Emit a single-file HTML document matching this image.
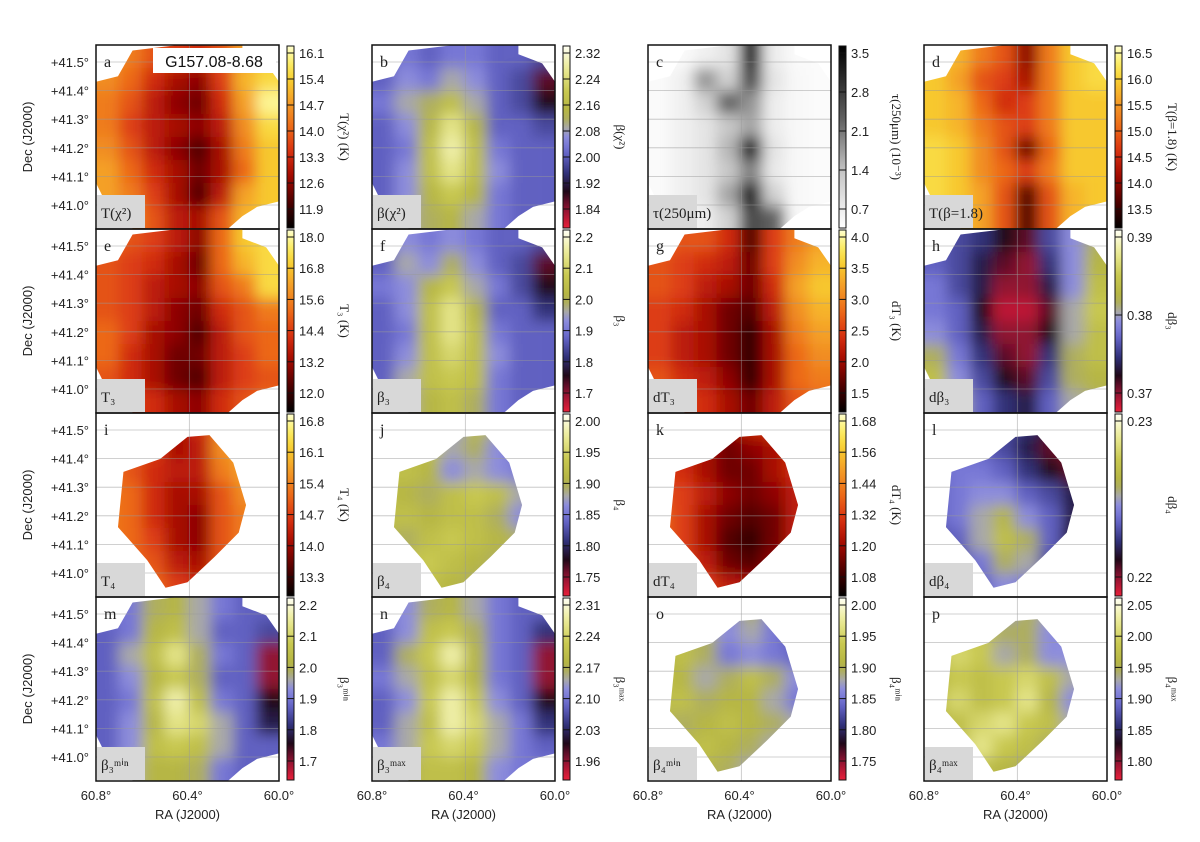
<!DOCTYPE html>
<html><head><meta charset="utf-8"><style>
html,body{margin:0;padding:0;background:#fff;}
svg{display:block;font-family:"Liberation Sans",sans-serif;}
</style></head><body>
<svg id="fig" width="1200" height="842" viewBox="0 0 1200 842" xmlns="http://www.w3.org/2000/svg">
<defs>
<filter id="blur" x="-30%" y="-30%" width="160%" height="160%"><feGaussianBlur stdDeviation="7"/></filter>
</defs>
</svg>
<script>
// ---- data ----
const panelLetters = ["a","b","c","d","e","f","g","h","i","j","k","l","m","n","o","p"];
const panelTags = ["T(χ²)","β(χ²)","τ(250μm)","T(β=1.8)","T₃","β₃","dT₃","dβ₃","T₄","β₄","dT₄","dβ₄","β₃ᵐⁱⁿ","β₃ᵐᵃˣ","β₄ᵐⁱⁿ","β₄ᵐᵃˣ"];
const cbarLabels = ["T(χ²) (K)","β(χ²)","τ(250μm) (10⁻³)","T(β=1.8) (K)","T₃ (K)","β₃","dT₃ (K)","dβ₃","T₄ (K)","β₄","dT₄ (K)","dβ₄","β₃ᵐⁱⁿ","β₃ᵐᵃˣ","β₄ᵐⁱⁿ","β₄ᵐᵃˣ"];
const cmaps = ["hot","beta","grey","hot","hot","beta","hot","beta","hot","beta","hot","beta","beta","beta","beta","beta"];
const shapes = ["full","full","full","full","full","full","full","full","small","small","small","small","full","full","small","small"];
const cbarTicks = [
 ["16.1","15.4","14.7","14.0","13.3","12.6","11.9"],
 ["2.32","2.24","2.16","2.08","2.00","1.92","1.84"],
 ["3.5","2.8","2.1","1.4","0.7"],
 ["16.5","16.0","15.5","15.0","14.5","14.0","13.5"],
 ["18.0","16.8","15.6","14.4","13.2","12.0"],
 ["2.2","2.1","2.0","1.9","1.8","1.7"],
 ["4.0","3.5","3.0","2.5","2.0","1.5"],
 ["0.39","0.38","0.37"],
 ["16.8","16.1","15.4","14.7","14.0","13.3"],
 ["2.00","1.95","1.90","1.85","1.80","1.75"],
 ["1.68","1.56","1.44","1.32","1.20","1.08"],
 ["0.23","0.22"],
 ["2.2","2.1","2.0","1.9","1.8","1.7"],
 ["2.31","2.24","2.17","2.10","2.03","1.96"],
 ["2.00","1.95","1.90","1.85","1.80","1.75"],
 ["2.05","2.00","1.95","1.90","1.85","1.80"]
];
const decTicks = ["+41.5°","+41.4°","+41.3°","+41.2°","+41.1°","+41.0°"];
const raTicks = ["60.8°","60.4°","60.0°"];
const gridA = [[.7,.6,.5,.45,.4,.5,.7,.8],[.65,.55,.4,.3,.25,.45,.75,.85],[.6,.5,.35,.25,.2,.4,.7,.95],[.6,.45,.35,.3,.25,.35,.65,.85],[.65,.5,.35,.25,.15,.3,.6,.8],[.7,.55,.4,.3,.2,.3,.55,.8],[.7,.6,.45,.3,.15,.35,.7,.8],[.75,.65,.5,.35,.3,.5,.75,.8]];
const gridB = [[.4,.45,.4,.45,.45,.4,.4,.35],[.4,.5,.45,.55,.5,.4,.35,.15],[.45,.55,.6,.7,.55,.4,.35,.2],[.4,.5,.65,.85,.65,.4,.4,.35],[.4,.45,.7,.9,.7,.45,.4,.4],[.4,.5,.7,.85,.7,.5,.4,.4],[.4,.5,.65,.75,.65,.45,.4,.4],[.45,.55,.6,.65,.55,.45,.4,.4]];
const gridC = [[.02,.03,.08,.15,.9,.1,.03,.02],[.03,.08,.45,.25,.7,.15,.04,.02],[.03,.08,.25,.6,.45,.1,.04,.02],[.03,.08,.15,.3,.4,.1,.04,.02],[.03,.08,.15,.35,.95,.15,.04,.02],[.03,.08,.15,.3,.5,.12,.04,.02],[.03,.08,.15,.4,.95,.25,.04,.02],[.02,.04,.1,.25,.7,.6,.04,.02]];
const gridD = [[.8,.75,.6,.5,.25,.6,.8,.85],[.8,.7,.5,.45,.3,.6,.8,.85],[.8,.75,.55,.4,.45,.6,.8,.8],[.8,.75,.6,.5,.45,.6,.8,.8],[.85,.8,.65,.5,.2,.55,.8,.8],[.85,.8,.65,.55,.45,.6,.8,.8],[.85,.8,.7,.5,.15,.5,.75,.8],[.85,.8,.7,.5,.15,.5,.75,.8]];
const gridE = [[.55,.5,.45,.35,.25,.55,.8,.85],[.5,.45,.4,.3,.2,.55,.75,.85],[.5,.45,.35,.3,.25,.5,.6,.85],[.5,.45,.35,.25,.2,.4,.5,.6],[.55,.45,.3,.25,.15,.35,.5,.55],[.55,.4,.3,.2,.2,.35,.45,.55],[.5,.4,.3,.2,.15,.35,.45,.5],[.55,.45,.4,.3,.25,.4,.5,.55]];
const gridF = [[.4,.5,.45,.5,.45,.4,.4,.35],[.4,.55,.5,.6,.5,.4,.35,.15],[.45,.5,.65,.75,.55,.45,.35,.2],[.4,.5,.7,.85,.65,.4,.4,.3],[.4,.45,.7,.85,.7,.45,.4,.4],[.4,.5,.7,.8,.7,.5,.4,.4],[.4,.55,.7,.75,.7,.45,.4,.4],[.45,.55,.65,.7,.6,.45,.4,.4]];
const gridG = [[.55,.5,.5,.4,.15,.45,.6,.7],[.5,.45,.4,.35,.2,.45,.65,.75],[.5,.45,.35,.3,.2,.4,.7,.8],[.45,.4,.3,.2,.15,.35,.65,.75],[.45,.35,.3,.2,.1,.3,.6,.7],[.45,.35,.3,.2,.1,.3,.55,.65],[.5,.4,.35,.25,.1,.3,.55,.6],[.55,.45,.4,.3,.2,.35,.5,.55]];
const gridH = [[.4,.35,.3,.2,.15,.35,.5,.6],[.4,.35,.25,.15,.1,.3,.5,.65],[.45,.35,.25,.1,.1,.25,.5,.7],[.45,.4,.2,.05,.05,.15,.55,.75],[.5,.4,.25,.1,.1,.2,.55,.7],[.6,.45,.3,.15,.1,.3,.6,.7],[.7,.5,.35,.2,.15,.35,.6,.65],[.75,.55,.4,.3,.25,.4,.55,.6]];
const gridI = [[.6,.6,.5,.3,.4,.6,.7,.7],[.6,.55,.45,.3,.35,.65,.75,.75],[.6,.5,.4,.35,.35,.6,.7,.7],[.6,.55,.4,.3,.3,.5,.65,.7],[.6,.55,.4,.3,.25,.5,.6,.65],[.6,.55,.45,.3,.25,.5,.6,.6],[.6,.55,.5,.35,.3,.5,.6,.6],[.6,.6,.55,.45,.4,.5,.6,.6]];
const gridJ = [[.6,.6,.6,.5,.7,.6,.4,.3],[.65,.65,.7,.55,.6,.5,.4,.3],[.7,.7,.65,.5,.55,.5,.45,.4],[.7,.65,.6,.7,.75,.7,.55,.4],[.7,.7,.65,.7,.7,.6,.5,.3],[.65,.6,.7,.75,.7,.65,.6,.5],[.65,.7,.75,.7,.65,.6,.55,.5],[.6,.65,.7,.65,.6,.55,.5,.5]];
const gridK = [[.45,.45,.4,.3,.4,.45,.5,.5],[.45,.4,.3,.2,.25,.3,.4,.5],[.45,.4,.3,.2,.2,.3,.4,.5],[.5,.45,.35,.25,.2,.25,.35,.45],[.55,.45,.3,.2,.15,.2,.35,.45],[.55,.45,.3,.15,.1,.2,.35,.45],[.55,.45,.35,.2,.15,.25,.4,.5],[.55,.5,.45,.35,.3,.35,.45,.5]];
const gridL = [[.4,.4,.4,.35,.3,.2,.15,.2],[.4,.4,.4,.35,.25,.15,.1,.15],[.4,.45,.45,.4,.3,.2,.15,.15],[.4,.45,.5,.5,.4,.35,.25,.2],[.4,.45,.55,.65,.5,.4,.25,.15],[.35,.4,.55,.7,.6,.4,.2,.15],[.35,.35,.45,.6,.55,.35,.2,.2],[.35,.35,.4,.5,.45,.3,.25,.3]];
const gridM = [[.45,.45,.6,.65,.55,.45,.4,.4],[.4,.45,.65,.7,.55,.4,.4,.35],[.4,.55,.7,.85,.6,.45,.4,.1],[.4,.5,.65,.75,.6,.4,.4,.1],[.4,.45,.7,.9,.7,.45,.4,.2],[.4,.5,.65,.85,.8,.55,.4,.25],[.4,.5,.7,.75,.7,.55,.4,.4],[.45,.55,.65,.65,.6,.45,.4,.4]];
const gridN = [[.45,.5,.6,.65,.55,.45,.4,.4],[.4,.5,.7,.75,.6,.45,.4,.3],[.4,.6,.75,.9,.65,.45,.4,.1],[.45,.55,.7,.8,.65,.45,.4,.1],[.4,.5,.75,.9,.75,.5,.4,.2],[.4,.55,.7,.9,.8,.55,.45,.3],[.45,.55,.75,.8,.75,.55,.45,.4],[.5,.6,.7,.7,.65,.5,.45,.45]];
const gridO = [[.6,.6,.55,.45,.6,.45,.3,.2],[.6,.65,.6,.5,.55,.45,.35,.2],[.65,.7,.6,.45,.5,.45,.4,.35],[.7,.65,.55,.6,.7,.6,.5,.4],[.7,.7,.6,.65,.65,.55,.45,.25],[.65,.6,.65,.7,.65,.6,.55,.45],[.6,.65,.7,.65,.6,.55,.5,.45],[.55,.6,.65,.6,.55,.5,.45,.45]];
const gridP = [[.6,.65,.6,.5,.6,.55,.45,.4],[.65,.7,.75,.6,.6,.5,.45,.4],[.7,.8,.75,.55,.6,.5,.5,.45],[.65,.75,.7,.75,.8,.7,.55,.45],[.7,.8,.7,.75,.85,.65,.5,.35],[.65,.7,.8,.85,.75,.7,.55,.5],[.6,.7,.85,.75,.7,.6,.55,.5],[.6,.65,.7,.65,.6,.55,.5,.5]];
const grids = [gridA,gridB,gridC,gridD,gridE,gridF,gridG,gridH,gridI,gridJ,gridK,gridL,gridM,gridN,gridO,gridP];

// ---- layout ----
const NS = "http://www.w3.org/2000/svg";
const svg = document.getElementById("fig");
const colX = [96, 372, 648, 924];
const rowY = [45, 229, 413, 597];
const PW = 183, PH = 184;
const shapePolys = {
 full: [[0,.2],[.12,.17],[.2,.03],[.45,0],[.8,0],[.8,.05],[.93,.1],[1,.2],[1,.85],[.88,.88],[.8,.93],[.72,1],[.2,1],[.18,.9],[.05,.85],[0,.75]],
 small: [[.15,.32],[.35,.25],[.5,.13],[.62,.12],[.75,.27],[.82,.5],[.78,.65],[.65,.78],[.5,.92],[.38,.95],[.28,.8],[.12,.62]]
};
const stopsMap = {
 hot: [[0,"#000000"],[.12,"#400000"],[.28,"#a00800"],[.42,"#d83010"],[.55,"#ec6818"],[.7,"#f4a028"],[.82,"#f8d030"],[.92,"#fcf070"],[1,"#ffffd0"]],
 grey: [[0,"#ffffff"],[.3,"#c8c8c8"],[.6,"#606060"],[1,"#000000"]],
 beta: [[0,"#e8203a"],[.12,"#801030"],[.2,"#200818"],[.3,"#303078"],[.42,"#6a6ad0"],[.5,"#8c8cdc"],[.55,"#a8a8a8"],[.62,"#b0b040"],[.75,"#c8c850"],[.88,"#ecec98"],[1,"#fffff4"]]
};
function hex2rgb(h){return [1,3,5].map(i=>parseInt(h.substr(i,2),16));}
function cmap(name, v){
 const s = stopsMap[name]; v = Math.max(0,Math.min(1,v));
 for(let i=1;i<s.length;i++){ if(v<=s[i][0]){ const t=(v-s[i-1][0])/(s[i][0]-s[i-1][0]); const a=hex2rgb(s[i-1][1]), b=hex2rgb(s[i][1]);
   return "rgb("+a.map((c,k)=>Math.round(c+(b[k]-c)*t)).join(",")+")"; } }
 return s[s.length-1][1];
}
function el(tag, attrs, parent){const e=document.createElementNS(NS,tag); for(const k in attrs) e.setAttribute(k,attrs[k]); (parent||svg).appendChild(e); return e;}
const defs = svg.querySelector("defs");
const xScale = (px, f) => px + f*PW;
const yScale = (py, f) => py + f*PH;

for(let p=0;p<16;p++){
 const r = Math.floor(p/4), c = p%4;
 const px = colX[c], py = rowY[r];
 const g = el("g",{});
 
 
 const cp = el("clipPath",{id:"clip"+p}, defs);
 el("polygon",{points: shapePolys[shapes[p]].map(q=>xScale(px,q[0])+","+yScale(py,q[1])).join(" ")}, cp);
 const pc = el("clipPath",{id:"pclip"+p}, defs);
 el("rect",{x:px,y:py,width:PW,height:PH}, pc);
 const outer = el("g",{"clip-path":"url(#pclip"+p+")"}, g);
 const mapG = el("g",{"clip-path":"url(#clip"+p+")"}, outer);
 const blurG = el("g",{filter:"url(#blur)"}, mapG);
 
 
 const grid = grids[p], nr = grid.length, nc = grid[0].length;
 for(let i=0;i<nr;i++) for(let j=0;j<nc;j++){
   let x0 = xScale(px, j/nc), x1 = xScale(px,(j+1)/nc), y0 = yScale(py,i/nr), y1 = yScale(py,(i+1)/nr);
   if(j===0) x0-=30; if(j===nc-1) x1+=30; if(i===0) y0-=30; if(i===nr-1) y1+=30;
   const cell = el("rect",{x:x0,y:y0,width:x1-x0,height:y1-y0,fill:cmap(cmaps[p],grid[i][j])}, blurG);
   
   
 }
 for(let k=0;k<6;k++){
   const yy = py+17+k*28.6;
   el("line",{x1:px,x2:px+PW,y1:yy,y2:yy,stroke:"#999",'stroke-width':0.8,opacity:0.6}, outer);
 }
 el("line",{x1:px+PW*0.51,x2:px+PW*0.51,y1:py,y2:py+PH,stroke:"#999",'stroke-width':0.8,opacity:0.6}, outer);
 const lt = el("text",{x:px+8,y:py+22,'font-family':"Liberation Serif,serif",'font-size':16,fill:"#222"}, g);
 lt.textContent = panelLetters[p];
 
 
 const tb = el("rect",{x:px+1,y:py+PH-34,width:48,height:33,fill:"#d8d8d8"}, g);
 
 
 const tt = el("text",{x:px+5,y:py+PH-11,'font-family':"Liberation Serif,serif",'font-size':15,fill:"#222"}, g);
 tt.textContent = panelTags[p];
 
 
 el("rect",{x:px,y:py,width:PW,height:PH,fill:"none",stroke:"#111",'stroke-width':1.5}, g);
 const gid = "cg"+p;
 const lg = el("linearGradient",{id:gid,x1:0,y1:1,x2:0,y2:0}, defs);
 for(let s=0;s<=20;s++){ el("stop",{offset:(s/20),'stop-color':cmap(cmaps[p], s/20)}, lg); }
 const cbx = px+191;
 const cb = el("rect",{x:cbx,y:py+1,width:7,height:PH-2,fill:"url(#"+gid+")",stroke:"#111",'stroke-width':1}, g);
 
 
 const ticks = cbarTicks[p];
 const n = ticks.length;
 const top = py+8, bot = py+PH-20;
 for(let k=0;k<n;k++){
   const yy = n>1 ? top + k*(bot-top)/(n-1) : top;
   el("line",{x1:cbx,x2:cbx+7,y1:yy,y2:yy,stroke:"#111",'stroke-width':1}, g);
   const t = el("text",{x:cbx+12,y:yy+5,'font-size':13,fill:"#222"}, g);
   t.textContent = ticks[k];
   
   
 }
 const cl = el("text",{x:0,y:0,'font-family':"Liberation Serif,serif",'font-size':13,fill:"#222",'text-anchor':"middle",transform:"translate("+(cbx+53)+","+(py+PH/2)+") rotate(90)"}, g);
 cl.textContent = cbarLabels[p];
 
 
}
const tbx = el("rect",{x:153,y:48,width:123,height:25,fill:"#fff"});


const ttl = el("text",{x:214,y:67,'font-size':16,'text-anchor':"middle",fill:"#111"});
ttl.textContent = "G157.08-8.68";


for(let r=0;r<4;r++){
 for(let k=0;k<decTicks.length;k++){
   const t = el("text",{x:89,y:rowY[r]+17+k*28.6+5,'font-size':13,'text-anchor':"end",fill:"#222"});
   t.textContent = decTicks[k];
   
   
 }
 const at = el("text",{x:0,y:0,'font-size':13,'text-anchor':"middle",fill:"#222",transform:"translate(32,"+(rowY[r]+PH/2)+") rotate(-90)"});
 at.textContent = "Dec (J2000)";
 
 
}
for(let c=0;c<4;c++){
 const fr = [0,0.5,1];
 for(let k=0;k<3;k++){
   const t = el("text",{x:colX[c]+fr[k]*PW,y:800,'font-size':13,'text-anchor':"middle",fill:"#222"});
   t.textContent = raTicks[k];
   
   
 }
 const at = el("text",{x:colX[c]+PW/2,y:819,'font-size':13,'text-anchor':"middle",fill:"#222"});
 at.textContent = "RA (J2000)";
 
 
}
</script>
</body></html>
